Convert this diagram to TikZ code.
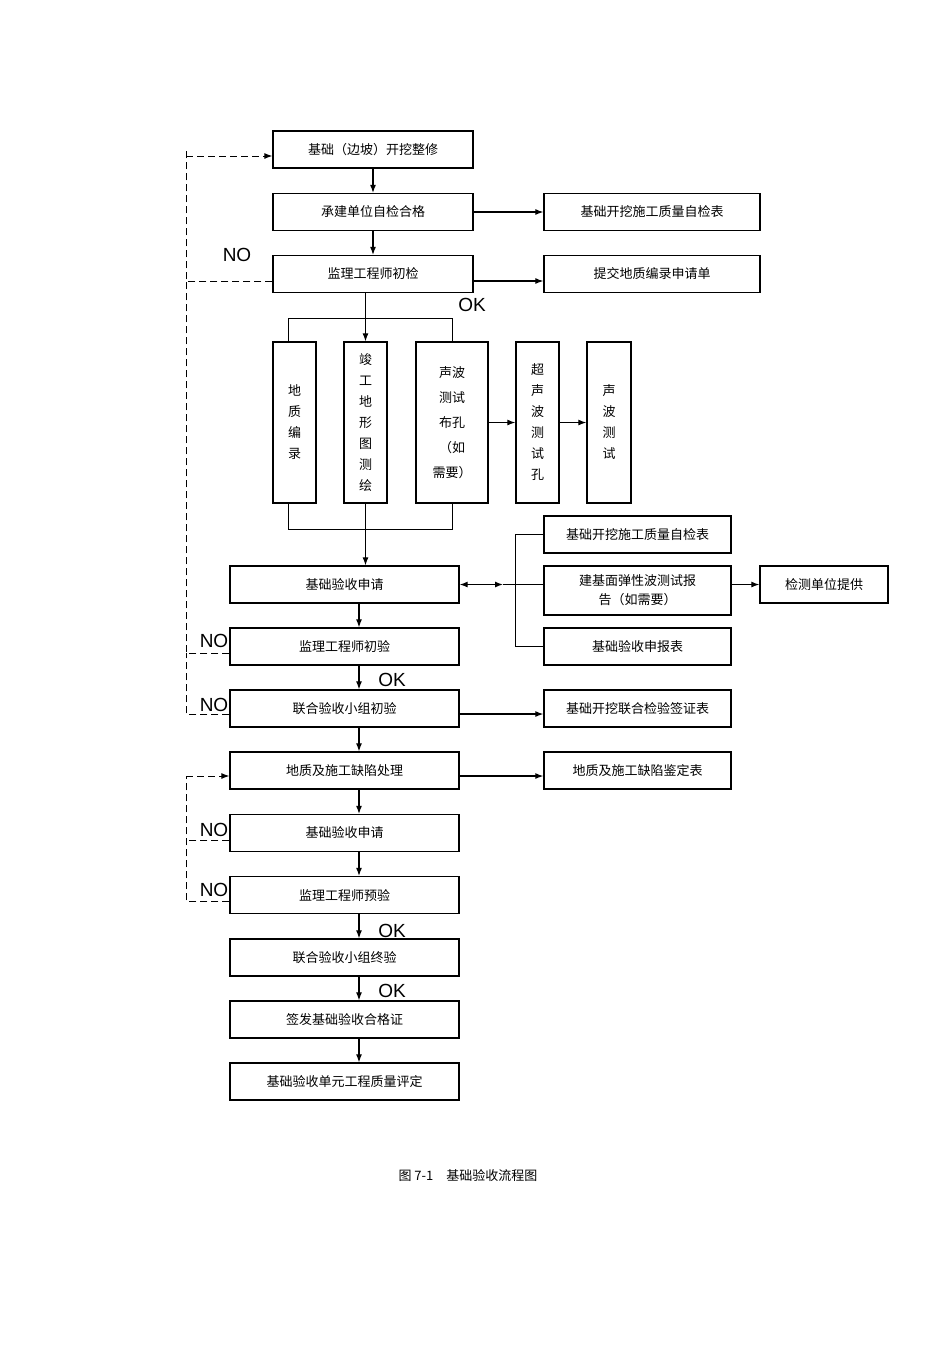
\documentclass[tikz,border=0pt]{standalone}
\usepackage{fontspec}
\setmainfont{Liberation Sans}
\newfontfamily\cjk{Noto Sans CJK SC}
\usetikzlibrary{arrows.meta}

\begin{document}
\begin{tikzpicture}[x=1pt,y=-1pt,
	box/.style={shape=rectangle,draw=black,line width=1.3pt,inner sep=0pt,font=\cjk\fontsize{13}{21}\selectfont,align=center},
	wide/.style={box,minimum width=200pt,minimum height=37pt},
	mid/.style={box,minimum width=229pt,minimum height=37pt},
	side/.style={box,minimum width=187pt,minimum height=37pt},
	tall/.style={box,minimum height=161pt},
	lab/.style={font=\fontsize{19}{19}\selectfont},
	arr/.style={-{Latex[length=8pt,width=6pt]},line width=1.2pt},
	dsh/.style={dashed,line width=1pt,dash pattern=on 7pt off 4pt}]
	
	\useasboundingbox (0,0) rectangle (950,1345);
	
	\node[wide] (a) at (373, 149.5)  {基础（边坡）开挖整修};
	\node[wide] (b) at (373, 212)    {承建单位自检合格};
	\node[box,minimum width=216pt,minimum height=37pt] (b1) at (652, 212) {基础开挖施工质量自检表};
	\node[wide] (c) at (373, 274)    {监理工程师初检};
	\node[box,minimum width=216pt,minimum height=37pt] (c1) at (652, 274) {提交地质编录申请单};
	
	\node[tall,minimum width=43pt] (d1) at (294.5, 422.5) {地\\质\\编\\录};
	\node[tall,minimum width=43pt] (d2) at (365.5, 422.5) {竣\\工\\地\\形\\图\\测\\绘};
	\node[tall,minimum width=72pt,font=\cjk\fontsize{13}{25}\selectfont] (d3) at (452, 422.5) {声波\\测试\\布孔\\（如\\需要）};
	\node[tall,minimum width=43pt] (d4) at (537.5, 422.5) {超\\声\\波\\测\\试\\孔};
	\node[tall,minimum width=44pt] (d5) at (609, 422.5) {声\\波\\测\\试};
	
	\node[mid] (e) at (344.5, 584.5) {基础验收申请};
	\node[side] (e1) at (637.5, 534.5) {基础开挖施工质量自检表};
	\node[side,minimum height=49pt,font=\cjk\fontsize{13}{19}\selectfont] (e2) at (637.5, 590.5) {建基面弹性波测试报\\告（如需要）};
	\node[side] (e3) at (637.5, 646.5) {基础验收申报表};
	\node[box,minimum width=128pt,minimum height=37pt] (e4) at (824, 584.5) {检测单位提供};
	
	\node[mid] (f) at (344.5, 646.5) {监理工程师初验};
	\node[mid] (g) at (344.5, 708.5) {联合验收小组初验};
	\node[side] (g1) at (637.5, 708.5) {基础开挖联合检验签证表};
	\node[mid] (h) at (344.5, 770.5) {地质及施工缺陷处理};
	\node[side] (h1) at (637.5, 770.5) {地质及施工缺陷鉴定表};
	\node[mid] (i) at (344.5, 833)   {基础验收申请};
	\node[mid] (j) at (344.5, 895)   {监理工程师预验};
	\node[mid] (k) at (344.5, 957.5) {联合验收小组终验};
	\node[mid] (l) at (344.5, 1019.5) {签发基础验收合格证};
	\node[mid] (m) at (344.5, 1081.5) {基础验收单元工程质量评定};
	
	\node[font=\cjk\fontsize{13}{13}\selectfont] (cap) at (468, 1176) {图 7-1\quad 基础验收流程图};
	
	% labels
	\node[lab] (no1) at (237, 255) {NO};
	\node[lab] (no2) at (214, 641) {NO};
	\node[lab] (no3) at (214, 705) {NO};
	\node[lab] (no4) at (214, 830) {NO};
	\node[lab] (no5) at (214, 890) {NO};
	\node[lab] (ok1) at (472, 305) {OK};
	\node[lab] (ok2) at (392, 680) {OK};
	\node[lab] (ok3) at (392, 931) {OK};
	\node[lab] (ok4) at (392, 991) {OK};
	
	% main chain
	\draw[arr] (a) -- (b);
	\draw[arr] (b) -- (c);
	\draw[arr] (b.east) -- (b1.west);
	\draw[arr] (c.east |- 0,281) -- (c1.west |- 0,281);
	\draw[arr] (c.south -| d2.north) -- (d2.north);
	\draw[line width=1pt] (d1.north -| 288,0) |- (0,318 -| d3.north) -- (d3.north);
	\draw[line width=1pt] (d1.south -| 288,0) |- (0,529 -| d3.south) -- (d3.south);
	\draw[arr] (d2.south) -- (e.north -| d2.south);
	\draw[arr] (d3.east) -- (d4.west);
	\draw[arr] (d4.east) -- (d5.west);
	
	\draw[{Latex[length=8pt,width=6pt]}-{Latex[length=8pt,width=6pt]},line width=1.2pt] (e.east) -- (503,584.5);
	\draw[line width=1pt] (503,584.5) -- (e2.west |- 0,584.5);
	\draw[line width=1pt] (e1.west) -| (515,0 |- e3.west) -- (e3.west);
	\draw[arr] (e2.east |- e4.west) -- (e4.west);
	
	\draw[arr] (e.south -| 359,0) -- (f.north -| 359,0);
	\draw[arr] (f.south -| 359,0) -- (g.north -| 359,0);
	\draw[arr] (g.east |- 0,714) -- (g1.west |- 0,714);
	\draw[arr] (g.south -| 359,0) -- (h.north -| 359,0);
	\draw[arr] (h.east |- 0,776) -- (h1.west |- 0,776);
	\draw[arr] (h.south -| 359,0) -- (i.north -| 359,0);
	\draw[arr] (i.south -| 359,0) -- (j.north -| 359,0);
	\draw[arr] (j.south -| 359,0) -- (k.north -| 359,0);
	\draw[arr] (k.south -| 359,0) -- (l.north -| 359,0);
	\draw[arr] (l.south -| 359,0) -- (m.north -| 359,0);
	
	% return paths
	\draw[dsh] (c.west |- 0,281) -| (186,0 |- a.west);
	\draw[dsh,arr,line width=1pt] (186,156) -- (a.west |- 0,156);
	\draw[dsh] (f.west |- 0,653) -| (186,281);
	\draw[dsh] (g.west |- 0,714) -| (186,653);
	\draw[dsh] (j.west |- 0,901) -| (186,776);
	\draw[dsh] (i.west |- 0,840) -- (186,840);
	\draw[dsh,arr,line width=1pt] (186,776) -- (h.west |- 0,776);
	
\end{tikzpicture}
\end{document}
